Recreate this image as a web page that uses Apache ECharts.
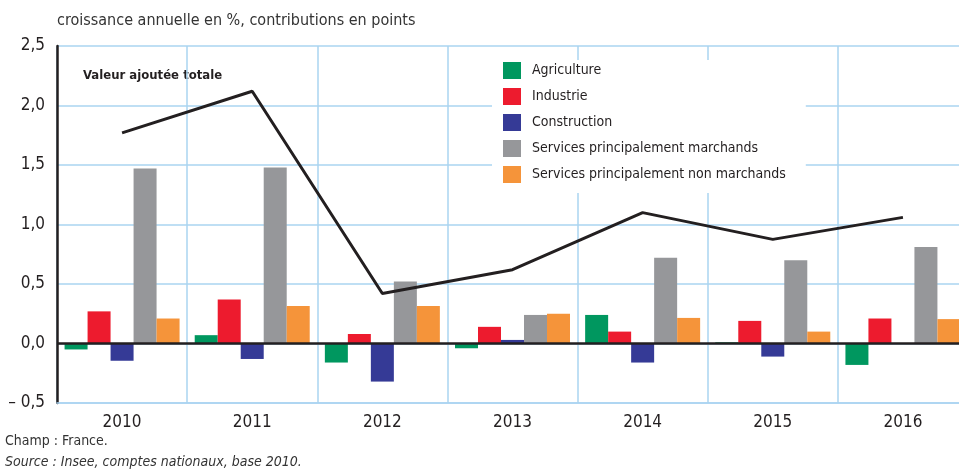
<!DOCTYPE html>
<html>
<head>
<meta charset="utf-8">
<script src="https://cdn.jsdelivr.net/npm/echarts@6/dist/echarts.min.js"></script>
</head>
<body style="margin:0;overflow:hidden">
<div id="chart" style="width:968px;height:472px"></div>
<script>
var years = ['2010', '2011', '2012', '2013', '2014', '2015', '2016'];
var agriculture = [-0.05, 0.07, -0.16, -0.04, 0.24, 0.01, -0.18];
var industrie = [0.27, 0.37, 0.08, 0.14, 0.10, 0.19, 0.21];
var construction = [-0.145, -0.13, -0.32, 0.03, -0.16, -0.11, 0];
var servMarchands = [1.47, 1.48, 0.52, 0.24, 0.72, 0.70, 0.81];
var servNonMarchands = [0.21, 0.315, 0.315, 0.25, 0.215, 0.10, 0.205];
var valeurAjoutee = [1.77, 2.12, 0.42, 0.62, 1.10, 0.875, 1.06];
var yTicks = { min: -0.5, max: 2.5, interval: 0.5 };

var font = '"Liberation Sans Narrow", "DejaVu Sans Condensed", "Liberation Sans", sans-serif';
var gridBlue = '#aad4f1';

function bar(name, data, color) {
    return {
        name: name,
        type: 'bar',
        data: data,
        barWidth: 23,
        barGap: '0%',
        itemStyle: { color: color },
        emphasis: { disabled: true }
    };
}

var chart = echarts.init(document.getElementById('chart'));
var series = [
    bar('Agriculture', agriculture, '#00975f'),
    bar('Industrie', industrie, '#ed1b2e'),
    bar('Construction', construction, '#353a96'),
    bar('Services principalement marchands', servMarchands, '#96979a'),
    bar('Services principalement non marchands', servNonMarchands, '#f5943a'),
    {
        name: 'Valeur ajoutée totale',
        type: 'line',
        data: valeurAjoutee,
        symbol: 'none',
        z: 5,
        lineStyle: { color: '#231f20', width: 3 }
    }
];
// zero line
series[0].markLine = {
    symbol: 'none',
    silent: true,
    label: { show: false },
    lineStyle: { color: '#231f20', width: 2.5, type: 'solid' },
    data: [{ yAxis: 0 }]
};

chart.setOption({
    animation: false,
    textStyle: { fontFamily: font },
    grid: { left: 57, right: 0, top: 46, bottom: 69 },
    graphic: [
        { type: 'text', left: 57, top: 13, style: { text: 'croissance annuelle en %, contributions en points', font: '16px ' + font, fill: '#333' } },
        { type: 'text', left: 83, top: 69, style: { text: 'Valeur ajoutée totale', font: 'bold 13px ' + font, fill: '#231f20' } },
        { type: 'text', left: 5, top: 434, style: { text: 'Champ : France.', font: '14px ' + font, fill: '#333' } },
        { type: 'text', left: 5, top: 455, style: { text: 'Source : Insee, comptes nationaux, base 2010.', font: 'italic 14px ' + font, fill: '#333' } }
    ],
    legend: {
        orient: 'vertical',
        left: 492,
        top: 60,
        width: 313,
        padding: [2, 20, 10, 11],
        backgroundColor: '#fff',
        itemWidth: 18,
        itemHeight: 17,
        itemGap: 9,
        icon: 'rect',
        data: ['Agriculture', 'Industrie', 'Construction', 'Services principalement marchands', 'Services principalement non marchands'],
        textStyle: { fontSize: 14, color: '#231f20', fontFamily: font, padding: [0, 0, 0, 6] }
    },
    xAxis: {
        type: 'category',
        data: years,
        axisLine: { onZero: false, lineStyle: { color: gridBlue, width: 1.5 } },
        axisTick: { show: false },
        axisLabel: { fontSize: 17, color: '#231f20', margin: 11 },
        splitLine: { show: true, lineStyle: { color: gridBlue, width: 1.5 } }
    },
    yAxis: {
        type: 'value',
        min: yTicks.min,
        max: yTicks.max,
        interval: yTicks.interval,
        axisLine: { show: true, lineStyle: { color: '#231f20', width: 2.5 } },
        axisTick: { show: false },
        axisLabel: {
            fontSize: 17,
            color: '#231f20',
            margin: 12,
            formatter: function (v) {
                var s = Math.abs(v).toFixed(1).replace('.', ',');
                return v < 0 ? '– ' + s : s;
            }
        },
        splitLine: { lineStyle: { color: gridBlue, width: 1.5 } }
    },
    series: series
});
</script>
</body>
</html>
